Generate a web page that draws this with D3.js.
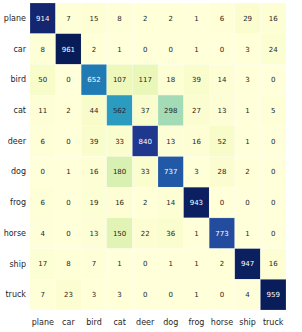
<!DOCTYPE html>
<html>
<head>
<meta charset="utf-8">
<script src="https://cdn.jsdelivr.net/npm/d3@7"></script>
<style>
  html, body { margin: 0; padding: 0; background: #fff; }
  svg { display: block; font-family: "DejaVu Sans", sans-serif; }
</style>
</head>
<body>
<div id="chart"></div>
<script>
const labels = ["plane", "car", "bird", "cat", "deer", "dog", "frog", "horse", "ship", "truck"]

// rows = true class, columns = predicted
const matrix = [
  [914, 7, 15, 8, 2, 2, 1, 6, 29, 16],
  [8, 961, 2, 1, 0, 0, 1, 0, 3, 24],
  [50, 0, 652, 107, 117, 18, 39, 14, 3, 0],
  [11, 2, 44, 562, 37, 298, 27, 13, 1, 5],
  [6, 0, 39, 33, 840, 13, 16, 52, 1, 0],
  [0, 1, 16, 180, 33, 737, 3, 28, 2, 0],
  [6, 0, 19, 16, 2, 14, 943, 0, 0, 0],
  [4, 0, 13, 150, 22, 36, 1, 773, 1, 0],
  [17, 8, 7, 1, 0, 1, 1, 2, 947, 16],
  [7, 23, 3, 3, 0, 0, 1, 0, 4, 959],
]

const width = 302
const height = 332
const margin = { top: 3, right: 16, bottom: 22, left: 30 }

const svg = d3.select("#chart").append("svg")
  .attr("width", width)
  .attr("height", height)

const x = d3.scaleBand().domain(labels).range([margin.left, width - margin.right])
const y = d3.scaleBand().domain(labels).range([margin.top, height - margin.bottom])

const vmax = d3.max(matrix.flat())
const color = d3.scaleSequential(d3.interpolateYlGnBu).domain([0, vmax])

const cells = []
matrix.forEach((row, i) => row.forEach((v, j) => cells.push({ row: labels[i], col: labels[j], v })))

const g = svg.append("g")

g.selectAll("rect")
  .data(cells)
  .join("rect")
  .attr("x", (d) => x(d.col))
  .attr("y", (d) => y(d.row))
  .attr("width", x.bandwidth())
  .attr("height", y.bandwidth())
  .attr("fill", (d) => color(d.v))
  .attr("stroke", "#fff")
  .attr("stroke-opacity", 0.35)
  .attr("stroke-width", 0.5)

// annotation text, white on dark cells
g.selectAll("text")
  .data(cells)
  .join("text")
  .attr("x", (d) => x(d.col) + x.bandwidth() / 2)
  .attr("y", (d) => y(d.row) + y.bandwidth() / 2)
  .attr("dy", "0.35em")
  .attr("text-anchor", "middle")
  .attr("font-size", "7px")
  .attr("fill", (d) => (d3.lab(color(d.v)).l < 55 ? "#fff" : "#262626"))
  .text((d) => d.v)

// axes without lines / ticks
const xAxis = svg.append("g")
  .attr("transform", `translate(0,${height - margin.bottom})`)
  .call(d3.axisBottom(x).tickSize(0).tickPadding(9))
xAxis.select(".domain").remove()
xAxis.selectAll("text").attr("font-size", "8px").attr("font-family", "DejaVu Sans").attr("fill", "#262626")

const yAxis = svg.append("g")
  .attr("transform", `translate(${margin.left},0)`)
  .call(d3.axisLeft(y).tickSize(0).tickPadding(4))
yAxis.select(".domain").remove()
yAxis.selectAll("text").attr("font-size", "8px").attr("font-family", "DejaVu Sans").attr("fill", "#262626")
</script>
</body>
</html>
